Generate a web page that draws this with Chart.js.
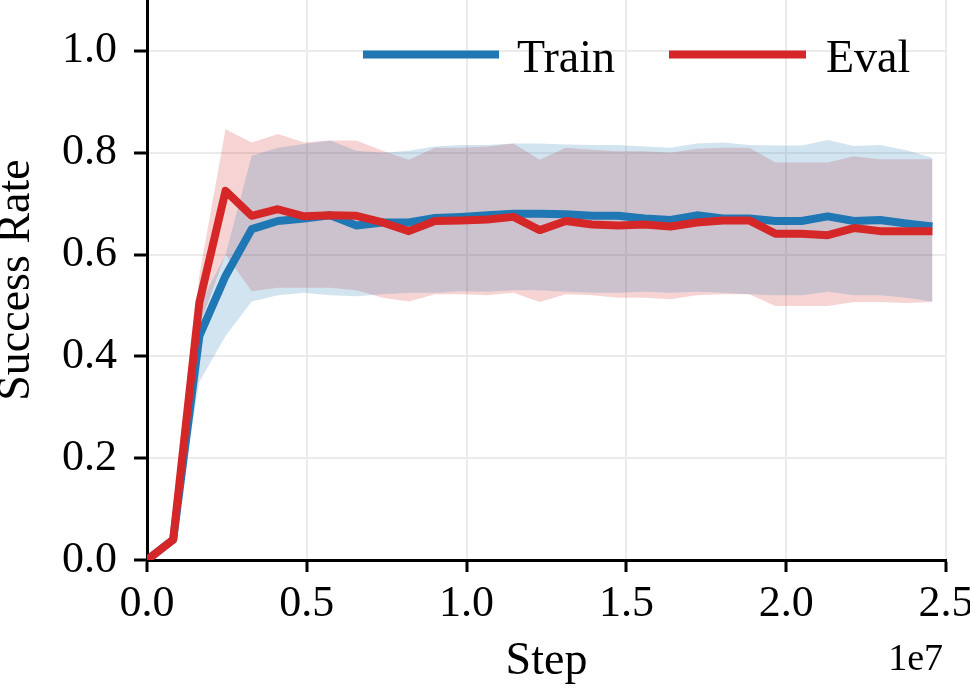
<!DOCTYPE html>
<html>
<head>
<meta charset="utf-8">
<script src="https://cdn.jsdelivr.net/npm/chart.js@4.4.1/dist/chart.umd.min.js"></script>
<style>
  html, body { margin: 0; padding: 0; background: #fff; }
  #wrap { width: 970px; height: 692px; }
</style>
</head>
<body>
<div id="wrap"><canvas id="successChart" width="970" height="692"></canvas></div>
<script>
// Environment steps (x axis, shown in units of 1e7)
const steps = [0, 819200, 1638400, 2457600, 3276800, 4096000, 4915200, 5734400, 6553600, 7372800,
    8192000, 9011200, 9830400, 10649600, 11468800, 12288000, 13107200, 13926400, 14745600, 15564800,
    16384000, 17203200, 18022400, 18841600, 19660800, 20480000, 21299200, 22118400, 22937600, 23756800,
    24576000];

// Mean success rate
const trainMean = [0, 0.04, 0.44, 0.558, 0.65, 0.666, 0.671, 0.677, 0.657, 0.663,
    0.663, 0.672, 0.674, 0.677, 0.680, 0.680, 0.679, 0.676, 0.676, 0.671,
    0.668, 0.677, 0.671, 0.671, 0.666, 0.666, 0.675, 0.666, 0.668, 0.661,
    0.655];
const evalMean = [0, 0.04, 0.506, 0.725, 0.676, 0.689, 0.675, 0.677, 0.676, 0.663,
    0.646, 0.666, 0.667, 0.669, 0.674, 0.648, 0.666, 0.659, 0.657, 0.659,
    0.655, 0.663, 0.667, 0.667, 0.641, 0.641, 0.638, 0.652, 0.646, 0.646,
    0.646];

// Shaded spread (upper / lower)
const trainUpper = [0, 0.045, 0.50, 0.60, 0.794, 0.810, 0.817, 0.824, 0.804, 0.80,
    0.804, 0.812, 0.815, 0.815, 0.818, 0.818, 0.816, 0.815, 0.815, 0.812,
    0.810, 0.818, 0.82, 0.815, 0.814, 0.814, 0.825, 0.813, 0.815, 0.805,
    0.79];
const trainLower = [0, 0.035, 0.35, 0.44, 0.508, 0.52, 0.525, 0.52, 0.518, 0.522,
    0.525, 0.525, 0.528, 0.527, 0.53, 0.53, 0.527, 0.525, 0.525, 0.527,
    0.525, 0.527, 0.525, 0.522, 0.52, 0.52, 0.527, 0.52, 0.52, 0.515,
    0.508];
const evalUpper = [0, 0.05, 0.56, 0.846, 0.820, 0.837, 0.820, 0.824, 0.824, 0.804,
    0.786, 0.810, 0.810, 0.812, 0.818, 0.786, 0.81, 0.806, 0.803, 0.803,
    0.800, 0.808, 0.810, 0.81, 0.781, 0.781, 0.781, 0.793, 0.787, 0.787,
    0.787];
const evalLower = [0, 0.03, 0.46, 0.60, 0.528, 0.535, 0.535, 0.535, 0.53, 0.515,
    0.508, 0.522, 0.522, 0.52, 0.525, 0.507, 0.522, 0.52, 0.515, 0.515,
    0.512, 0.52, 0.522, 0.522, 0.499, 0.499, 0.499, 0.507, 0.507, 0.505,
    0.507];

const yTicks = [0, 0.2, 0.4, 0.6, 0.8, 1.0];

const BLUE = '#1f77b4';
const RED = '#d62728';
const FONT = 'Liberation Serif';

const pts = vals => vals.map((v, i) => ({ x: steps[i], y: v }));

function meanSet(label, vals, color) {
    return {
        label: label,
        data: pts(vals),
        borderColor: color,
        backgroundColor: color,
        borderWidth: 8,
        borderJoinStyle: 'round',
        pointRadius: 0,
        tension: 0,
        fill: false
    };
}

function bandSet(vals, color, fill) {
    return {
        label: '',
        data: pts(vals),
        borderColor: 'transparent',
        borderWidth: 0,
        backgroundColor: color,
        pointRadius: 0,
        tension: 0,
        fill: fill
    };
}

// legend + offset text drawn on top of the plot
const extras = {
    id: 'extras',
    afterDraw(chart) {
        const ctx = chart.ctx;
        ctx.save();
        const items = [
            { ds: chart.data.datasets[1], x0: 363, x1: 499, tx: 517 },
            { ds: chart.data.datasets[0], x0: 669, x1: 806, tx: 826 }
        ];
        items.forEach(it => {
            ctx.strokeStyle = it.ds.borderColor;
            ctx.lineWidth = 8;
            ctx.lineCap = 'butt';
            ctx.beginPath();
            ctx.moveTo(it.x0, 54.5);
            ctx.lineTo(it.x1, 54.5);
            ctx.stroke();
            ctx.fillStyle = '#000';
            ctx.font = '46px "' + FONT + '"';
            ctx.textAlign = 'left';
            ctx.textBaseline = 'alphabetic';
            ctx.fillText(it.ds.label, it.tx, 71.5);
        });
        ctx.font = '38px "' + FONT + '"';
        ctx.textAlign = 'right';
        ctx.fillText('1e7', 943, 670);
        ctx.restore();
    }
};

new Chart(document.getElementById('successChart'), {
    type: 'line',
    data: {
        datasets: [
            meanSet('Eval', evalMean, RED),
            meanSet('Train', trainMean, BLUE),
            bandSet(trainUpper, 'rgba(31,119,180,0.2)', '+1'),
            bandSet(trainLower, 'transparent', false),
            bandSet(evalUpper, 'rgba(214,39,40,0.2)', '+1'),
            bandSet(evalLower, 'transparent', false)
        ]
    },
    options: {
        responsive: false,
        animation: false,
        layout: { padding: { left: 0, right: 24, top: 0, bottom: 0 } },
        plugins: {
            legend: { display: false },
            tooltip: { enabled: false }
        },
        scales: {
            x: {
                type: 'linear',
                min: 0,
                max: 25000000,
                ticks: {
                    stepSize: 5000000,
                    color: '#000',
                    font: { family: FONT, size: 44 },
                    padding: 6,
                    maxRotation: 0,
                    callback: v => (v / 1e7).toFixed(1)
                },
                grid: {
                    color: '#ebebeb',
                    lineWidth: 2,
                    tickColor: '#000',
                    tickLength: 12,
                    tickWidth: 3
                },
                border: { color: '#000', width: 3 },
                title: {
                    display: true,
                    text: 'Step',
                    color: '#000',
                    font: { family: FONT, size: 46, lineHeight: 1.2 },
                    padding: { top: 0, bottom: 2 }
                },
                afterFit(scale) {
                    scale.height = 132;
                    scale.paddingLeft = 0;
                    scale.paddingRight = 0;
                }
            },
            y: {
                min: 0,
                max: 1.1,
                afterBuildTicks(scale) {
                    scale.ticks = yTicks.map(v => ({ value: v }));
                },
                ticks: {
                    color: '#000',
                    font: { family: FONT, size: 44 },
                    padding: 17,
                    callback: v => v.toFixed(1)
                },
                grid: {
                    color: '#ebebeb',
                    lineWidth: 2,
                    tickColor: '#000',
                    tickLength: 13,
                    tickWidth: 3
                },
                border: { color: '#000', width: 3 },
                title: {
                    display: true,
                    text: 'Success Rate',
                    color: '#000',
                    font: { family: FONT, size: 46, lineHeight: 0.75 },
                    padding: { top: 0, bottom: 0 }
                },
                afterFit(scale) {
                    scale.width = 147;
                    scale.paddingTop = 0;
                    scale.paddingBottom = 0;
                }
            }
        }
    },
    plugins: [extras]
});
</script>
</body>
</html>
